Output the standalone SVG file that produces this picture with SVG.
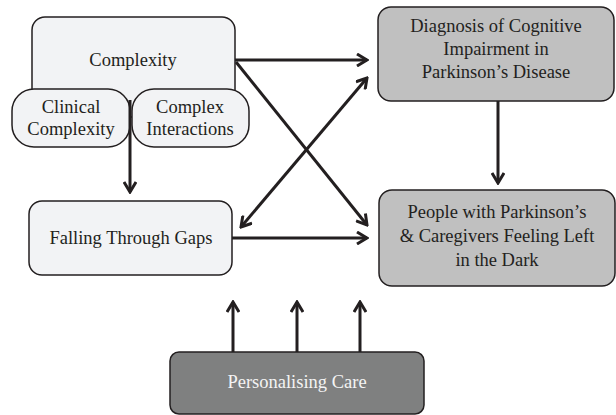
<svg xmlns="http://www.w3.org/2000/svg" width="616" height="415" viewBox="0 0 616 415">
<defs>
<style>
.box{stroke:#231f20;stroke-width:1.5}
.light{fill:#f2f3f5}
.mid{fill:#c0c0c0}
.dark{fill:#7f8080}
.t{font-family:"Liberation Serif","Times New Roman",serif;font-size:18.5px;fill:#231f20;text-anchor:middle}
.tw{fill:#f4f4f4}
.c{stroke:#231f20;stroke-width:3;fill:none;marker-end:url(#ah)}
.c2{marker-start:url(#ah)}
</style>
<marker id="ah" markerUnits="userSpaceOnUse" viewBox="0 0 14 14" refX="12" refY="7" markerWidth="14" markerHeight="14" orient="auto-start-reverse">
<path d="M2,1 L12,7 L2,13" fill="none" stroke="#231f20" stroke-width="3" stroke-linejoin="miter"/>
</marker>
</defs>
<g id="complexity">
<rect class="box light" x="32" y="17" width="203" height="100" rx="13"/>
<text class="t" x="133" y="66">Complexity</text>
</g>
<g id="clinical-complexity">
<rect class="box light" x="12" y="89" width="118" height="58" rx="22"/>
<text class="t" x="71" y="113">Clinical</text>
<text class="t" x="71" y="135">Complexity</text>
</g>
<g id="complex-interactions">
<rect class="box light" x="132" y="89" width="117" height="58" rx="22"/>
<text class="t" x="190" y="113">Complex</text>
<text class="t" x="190" y="135">Interactions</text>
</g>
<g id="diagnosis">
<rect class="box mid" x="378" y="7" width="236" height="94" rx="13"/>
<text class="t" x="496" y="32">Diagnosis of Cognitive</text>
<text class="t" x="496" y="55">Impairment in</text>
<text class="t" x="496" y="78">Parkinson’s Disease</text>
</g>
<g id="falling">
<rect class="box light" x="29" y="201" width="203" height="74" rx="13"/>
<text class="t" x="131" y="244">Falling Through Gaps</text>
</g>
<g id="people">
<rect class="box mid" x="379" y="190" width="236" height="96" rx="13"/>
<text class="t" x="497" y="218">People with Parkinson’s</text>
<text class="t" x="497" y="242">&amp; Caregivers Feeling Left</text>
<text class="t" x="497" y="266">in the Dark</text>
</g>
<g id="personalising">
<rect class="box dark" x="170" y="352" width="254" height="62" rx="9"/>
<text class="t tw" x="297" y="388">Personalising Care</text>
</g>
<g id="connectors">
<line class="c" x1="130" y1="100" x2="130" y2="192"/>
<line class="c" x1="235" y1="60" x2="367" y2="60"/>
<line class="c" x1="236" y1="62" x2="367" y2="225"/>
<line class="c c2" x1="241" y1="227" x2="367" y2="78"/>
<line class="c" x1="232" y1="238" x2="367" y2="238"/>
<line class="c" x1="498" y1="101" x2="498" y2="183"/>
<line class="c" x1="233" y1="352" x2="233" y2="302"/>
<line class="c" x1="297" y1="352" x2="297" y2="302"/>
<line class="c" x1="360" y1="352" x2="360" y2="302"/>
</g>
</svg>
